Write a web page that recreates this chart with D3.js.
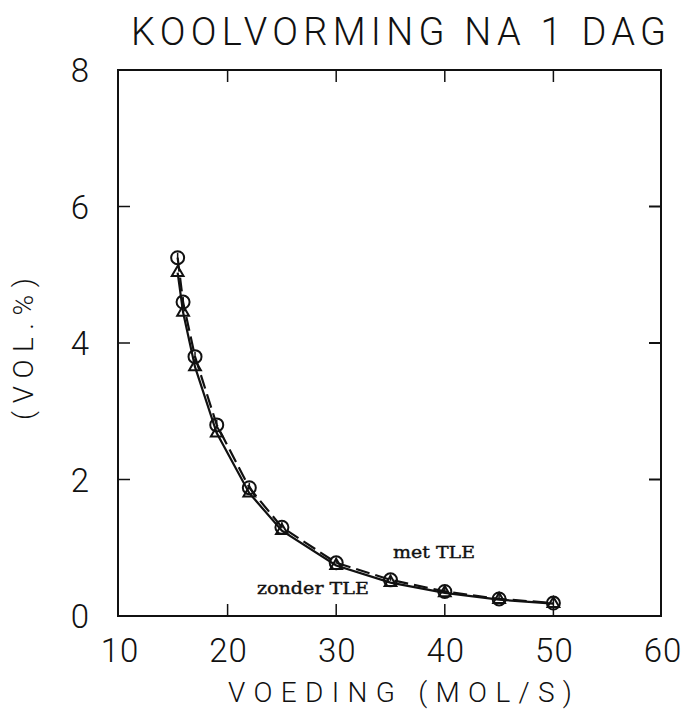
<!DOCTYPE html>
<html>
<head>
<meta charset="utf-8">
<script src="https://cdn.jsdelivr.net/npm/d3@7"></script>
<style>
  body { margin: 0; background: #fff; }
  svg text { fill: #111; }
</style>
</head>
<body>
<svg id="chart" width="685" height="709"></svg>
<script>
// data
const voeding = [15.4, 15.9, 17, 19, 22, 25, 30, 35, 40, 45, 50];
const metTLE = [5.25, 4.6, 3.8, 2.8, 1.88, 1.3, 0.78, 0.53, 0.36, 0.25, 0.19];
const zonderTLE = [5.03, 4.45, 3.65, 2.68, 1.8, 1.25, 0.74, 0.49, 0.34, 0.24, 0.18];
const xTicks = [10, 20, 30, 40, 50, 60];
const yTicks = [0, 2, 4, 6, 8];

const svg = d3.select("#chart");
const plotLeft = 118, plotRight = 661, plotTop = 70, plotBottom = 616;

const x = d3.scaleLinear().domain([10, 60]).range([plotLeft + 1, plotRight + 1]);
const y = d3.scaleLinear().domain([0, 8]).range([plotBottom, plotTop]);

// frame
svg
  .append("rect")
  .attr("x", plotLeft)
  .attr("y", plotTop)
  .attr("width", plotRight - plotLeft)
  .attr("height", plotBottom - plotTop)
  .attr("fill", "none")
  .attr("stroke", "#111")
  .attr("stroke-width", 2);

// inward ticks on all four sides
const inner = 12;
const xInner = xTicks.slice(1, -1);
const yInner = yTicks.slice(1, -1);

svg.selectAll(".xtick-b").data(xInner).enter().append("line")
  .attr("x1", (d) => x(d)).attr("x2", (d) => x(d))
  .attr("y1", plotBottom).attr("y2", plotBottom - inner)
  .attr("stroke", "#111").attr("stroke-width", 1.5);
svg.selectAll(".xtick-t").data(xInner).enter().append("line")
  .attr("x1", (d) => x(d)).attr("x2", (d) => x(d))
  .attr("y1", plotTop).attr("y2", plotTop + inner)
  .attr("stroke", "#111").attr("stroke-width", 1.5);
svg.selectAll(".ytick-l").data(yInner).enter().append("line")
  .attr("x1", plotLeft).attr("x2", plotLeft + inner)
  .attr("y1", (d) => y(d)).attr("y2", (d) => y(d))
  .attr("stroke", "#111").attr("stroke-width", 1.5);
svg.selectAll(".ytick-r").data(yInner).enter().append("line")
  .attr("x1", plotRight).attr("x2", plotRight - inner)
  .attr("y1", (d) => y(d)).attr("y2", (d) => y(d))
  .attr("stroke", "#111").attr("stroke-width", 2);

// tick labels, thin plotter-like lettering
const labelFont = "Roboto, 'DejaVu Sans Condensed', 'Liberation Sans', sans-serif";
svg.selectAll(".xlab").data(xTicks).enter().append("text")
  .attr("x", (d) => x(d) + 1)
  .attr("y", 662)
  .attr("text-anchor", "middle")
  .attr("font-family", labelFont)
  .attr("font-weight", 300)
  .attr("font-size", 33)
  .attr("letter-spacing", 1)
  .text((d) => d);

svg.selectAll(".ylab").data(yTicks).enter().append("text")
  .attr("x", 89)
  .attr("y", (d) => y(d) + 12)
  .attr("text-anchor", "end")
  .attr("font-family", labelFont)
  .attr("font-weight", 300)
  .attr("font-size", 33)
  .text((d) => d);

// title and axis titles
svg.append("text")
  .attr("x", 131).attr("y", 45)
  .attr("font-family", labelFont)
  .attr("font-weight", 300)
  .attr("font-size", 38)
  .attr("textLength", 535)
  .attr("lengthAdjust", "spacing")
  .text("KOOLVORMING NA 1 DAG");

svg.append("text")
  .attr("x", 228).attr("y", 702)
  .attr("font-family", labelFont)
  .attr("font-weight", 300)
  .attr("font-size", 28)
  .attr("textLength", 344)
  .attr("lengthAdjust", "spacing")
  .text("VOEDING (MOL/S)");

svg.append("text")
  .attr("transform", "translate(33,420) rotate(-90)")
  .attr("font-family", labelFont)
  .attr("font-weight", 300)
  .attr("font-size", 28)
  .attr("textLength", 142)
  .attr("lengthAdjust", "spacing")
  .text("(VOL.%)");

// curves
const withData = voeding.map((v, i) => ({ x: v, y: metTLE[i] }));
const withoutData = voeding.map((v, i) => ({ x: v, y: zonderTLE[i] }));
const line = d3.line().x((d) => x(d.x)).y((d) => y(d.y));

svg.append("path")
  .attr("d", line(withoutData))
  .attr("fill", "none")
  .attr("stroke", "#111")
  .attr("stroke-width", 2.2);

svg.append("path")
  .attr("d", line(withData))
  .attr("fill", "none")
  .attr("stroke", "#111")
  .attr("stroke-width", 2.2)
  .attr("stroke-dasharray", "14,6");

// triangle markers (zonder TLE)
const tri = d3.symbol().type(d3.symbolTriangle).size(60);
svg.selectAll(".tri").data(withoutData).enter().append("path")
  .attr("d", tri)
  .attr("transform", (d) => "translate(" + x(d.x) + " " + y(d.y) + ")")
  .attr("fill", "none")
  .attr("stroke", "#111")
  .attr("stroke-width", 2);

// circle markers (met TLE) with the little plotter stroke inside
const marks = svg.selectAll(".circ").data(withData).enter().append("g")
  .attr("transform", (d) => "translate(" + x(d.x) + " " + y(d.y) + ")");
marks.append("circle")
  .attr("r", 6.5)
  .attr("fill", "none")
  .attr("stroke", "#111")
  .attr("stroke-width", 2);
marks.append("line")
  .attr("x1", 0).attr("x2", 0)
  .attr("y1", -5).attr("y2", 1)
  .attr("stroke", "#111")
  .attr("stroke-width", 1.5);

// curve labels, typewriter style
const typeFont = "'DejaVu Serif', 'Liberation Serif', serif";
svg.append("text")
  .attr("x", 393).attr("y", 558)
  .attr("font-family", typeFont)
  .attr("font-size", 17)
  .attr("stroke", "#111")
  .attr("stroke-width", 0.4)
  .attr("textLength", 82)
  .attr("lengthAdjust", "spacingAndGlyphs")
  .text("met TLE");
svg.append("text")
  .attr("x", 257).attr("y", 594)
  .attr("font-family", typeFont)
  .attr("font-size", 17)
  .attr("stroke", "#111")
  .attr("stroke-width", 0.4)
  .attr("textLength", 112)
  .attr("lengthAdjust", "spacingAndGlyphs")
  .text("zonder TLE");
</script>
</body>
</html>
